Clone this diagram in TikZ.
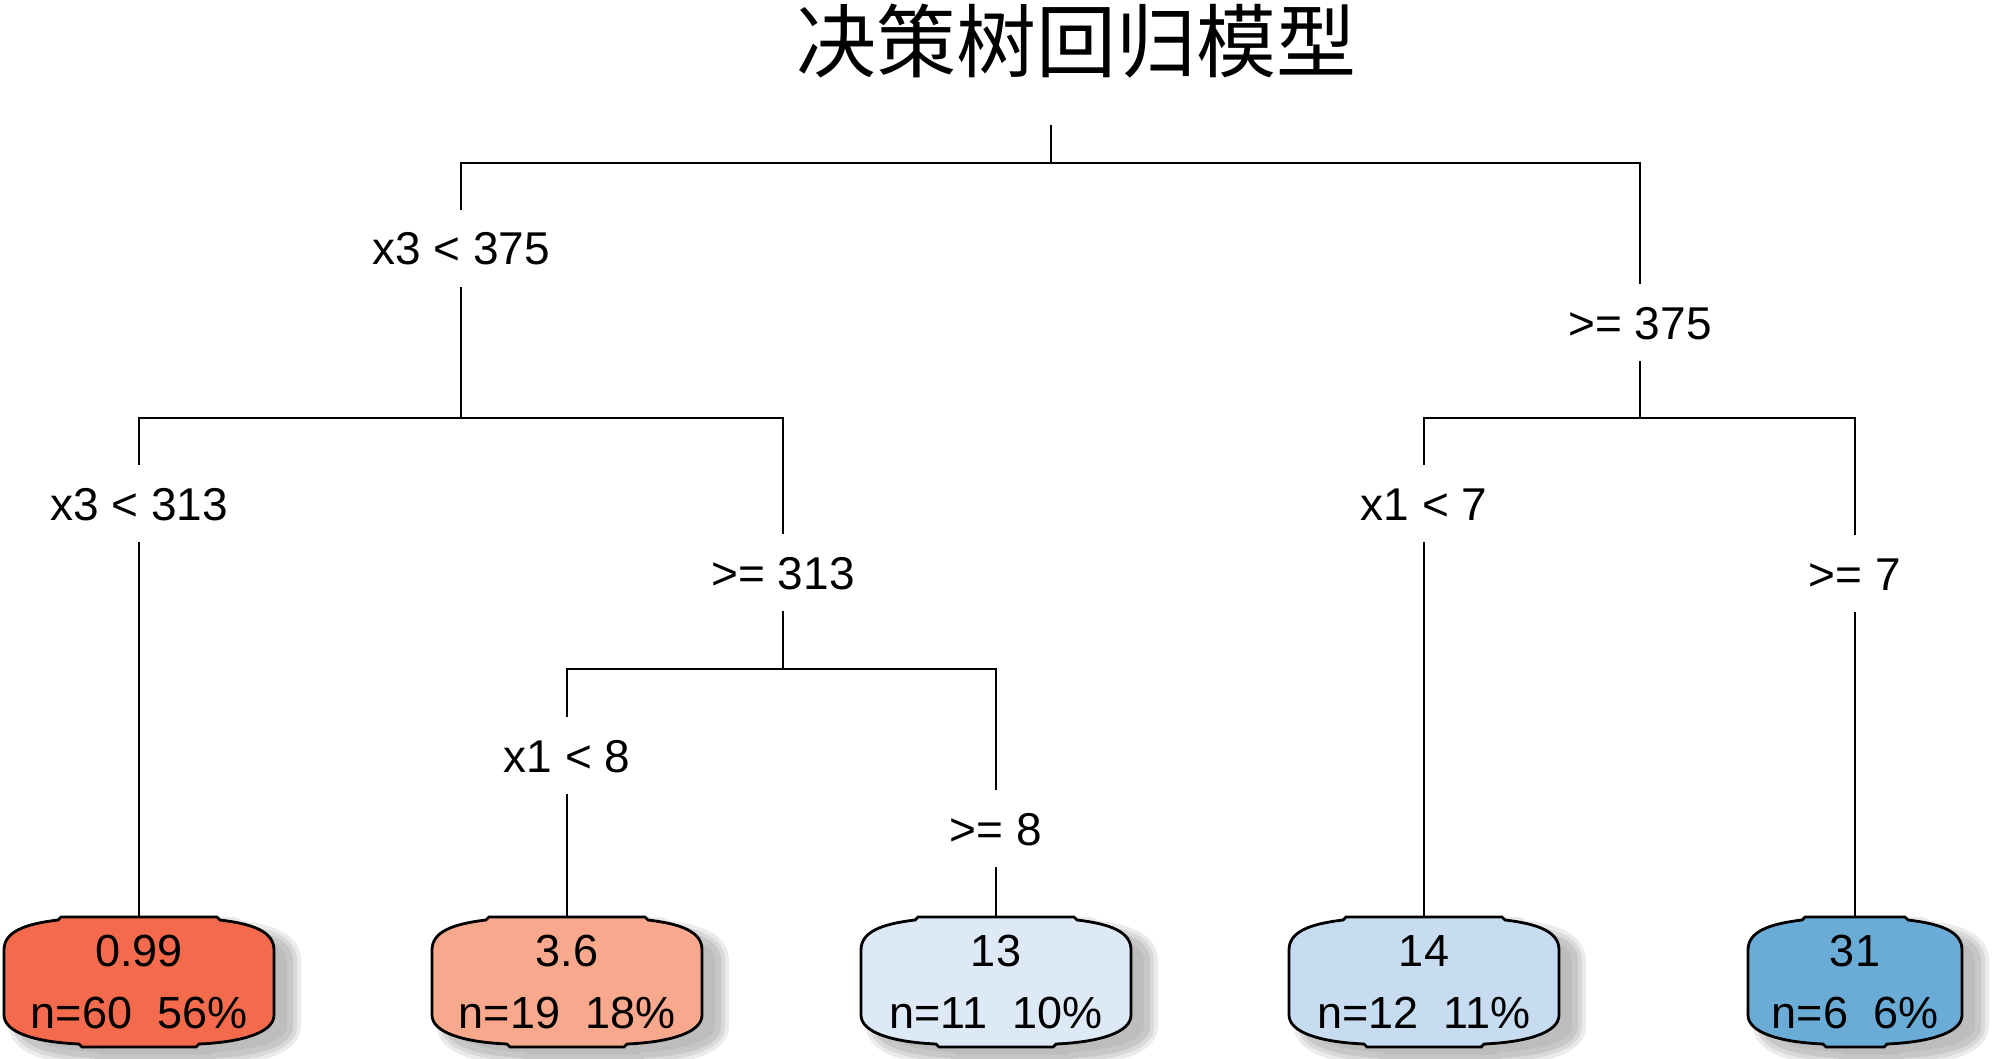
\documentclass[tikz,border=0pt]{standalone}
\usepackage{fontspec}
\setmainfont{Liberation Sans}
\newfontfamily\cjk{Noto Sans CJK SC}
\usetikzlibrary{calc}
\pgfdeclarelayer{bg}
\pgfsetlayers{bg,main}
\definecolor{leafA}{RGB}{243,106,77}
\definecolor{leafB}{RGB}{248,168,140}
\definecolor{leafC}{RGB}{221,233,246}
\definecolor{leafD}{RGB}{199,220,241}
\definecolor{leafE}{RGB}{107,172,214}
\newcommand\leafoutline[1]{(-#1+57,-65) -- (#1-57,-65) -- (#1-54,-62) .. controls (#1-20,-58) and (#1,-50) .. (#1,-32) -- (#1,33) .. controls (#1,50) and (#1-30,60) .. (#1-75,62) -- (#1-78,65) -- (-#1+78,65) -- (-#1+75,62) .. controls (-#1+30,60) and (-#1,50) .. (-#1,33) -- (-#1,-32) .. controls (-#1,-50) and (-#1+20,-58) .. (-#1+54,-62) -- cycle}
\newcommand\leafshape[3]{%
  \begin{scope}[shift={(#1.center)}]
    \begin{scope}[shift={(16,11)}]
      \draw[black!8, line width=22pt, line join=round] \leafoutline{#2};
      \draw[black!15, line width=14pt, line join=round] \leafoutline{#2};
      \draw[black!22, line width=6pt, line join=round, fill=black!26] \leafoutline{#2};
    \end{scope}
    \draw[black, line width=2.8pt, fill=#3] \leafoutline{#2};
  \end{scope}}
\tikzset{
  split/.style={anchor=base, inner xsep=6pt, inner ysep=22pt, text height=33pt, text depth=0pt, font=\fontsize{46}{54}\selectfont},
  leafbox/.style={minimum width=#1, minimum height=130pt, inner sep=0pt, align=center, font=\fontsize{45}{62}\selectfont},
  edge/.style={line width=2.8pt, black, line cap=butt}
}
\begin{document}
\begin{tikzpicture}[x=1pt, y=-1pt]
\useasboundingbox (0,0) rectangle (1999,1059);
\node[anchor=base, inner sep=0pt, font=\cjk\fontsize{80}{96}\selectfont] (title) at (1076,72) {决策树回归模型};

% junction coordinates
\coordinate (rt) at (1051,125);
\coordinate (c1M) at (1051,163);
\coordinate (c1L) at (461,163);
\coordinate (c1R) at (1640,163);
\coordinate (c2M) at (461,418);
\coordinate (c2L) at (139,418);
\coordinate (c2R) at (783,418);
\coordinate (c3M) at (783,669);
\coordinate (c3L) at (567,669);
\coordinate (c3R) at (996,669);
\coordinate (c2rM) at (1640,418);
\coordinate (c2rL) at (1424,418);
\coordinate (c2rR) at (1855,418);

% split labels
\node[split] (s1) at (461,265) {x3 < 375};
\node[split] (s2) at (1640,339) {>= 375};
\node[split] (s3) at (139,520) {x3 < 313};
\node[split] (s4) at (783,589) {>= 313};
\node[split] (s5) at (567,772) {x1 < 8};
\node[split] (s6) at (996,845) {>= 8};
\node[split] (s7) at (1424,520) {x1 < 7};
\node[split] (s8) at (1855,590) {>= 7};

% leaves
\node[leafbox=270pt] (l1) at (139,982) {0.99\\n=60\ \ 56\%};
\node[leafbox=270pt] (l2) at (567,982) {3.6\\n=19\ \ 18\%};
\node[leafbox=270pt] (l3) at (996,982) {13\\n=11\ \ 10\%};
\node[leafbox=270pt] (l4) at (1424,982) {14\\n=12\ \ 11\%};
\node[leafbox=214pt] (l5) at (1855,982) {31\\n=6\ \ 6\%};

\begin{pgfonlayer}{bg}
  \leafshape{l1}{135}{leafA}
  \leafshape{l2}{135}{leafB}
  \leafshape{l3}{135}{leafC}
  \leafshape{l4}{135}{leafD}
  \leafshape{l5}{107}{leafE}

  \draw[edge] (rt) -- (c1M);
  \draw[edge] (s1) -- (c1L) -- (c1R) -- (s2);
  \draw[edge] (s1) -- (c2M);
  \draw[edge] (s3) -- (c2L) -- (c2R) -- (s4);
  \draw[edge] (s3) -- (l1);
  \draw[edge] (s4) -- (c3M);
  \draw[edge] (s5) -- (c3L) -- (c3R) -- (s6);
  \draw[edge] (s5) -- (l2);
  \draw[edge] (s6) -- (l3);
  \draw[edge] (s2) -- (c2rM);
  \draw[edge] (s7) -- (c2rL) -- (c2rR) -- (s8);
  \draw[edge] (s7) -- (l4);
  \draw[edge] (s8) -- (l5);
\end{pgfonlayer}
\end{tikzpicture}
\end{document}
